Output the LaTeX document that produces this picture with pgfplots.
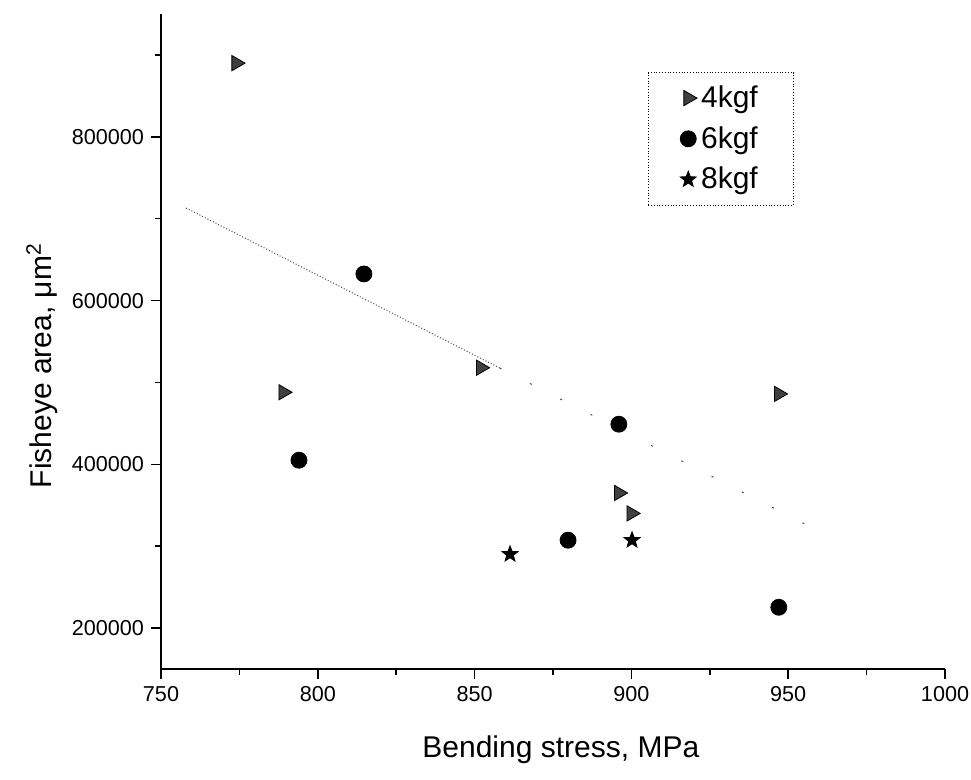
\documentclass[border=0pt]{standalone}
\usepackage{fontspec}
\setmainfont{Liberation Sans}
\usepackage{pgfplots}
\pgfplotsset{compat=1.18}
\pgfdeclareplotmark{fullstar}{%
  \pgfpathmoveto{\pgfpointpolar{90}{\pgfplotmarksize}}%
  \pgfpathlineto{\pgfpointpolar{126}{0.42\pgfplotmarksize}}%
  \pgfpathlineto{\pgfpointpolar{162}{\pgfplotmarksize}}%
  \pgfpathlineto{\pgfpointpolar{198}{0.42\pgfplotmarksize}}%
  \pgfpathlineto{\pgfpointpolar{234}{\pgfplotmarksize}}%
  \pgfpathlineto{\pgfpointpolar{270}{0.42\pgfplotmarksize}}%
  \pgfpathlineto{\pgfpointpolar{306}{\pgfplotmarksize}}%
  \pgfpathlineto{\pgfpointpolar{342}{0.42\pgfplotmarksize}}%
  \pgfpathlineto{\pgfpointpolar{18}{\pgfplotmarksize}}%
  \pgfpathlineto{\pgfpointpolar{54}{0.42\pgfplotmarksize}}%
  \pgfpathclose
  \pgfusepathqfillstroke
}
\begin{document}
\begin{tikzpicture}
\begin{axis}[
  scale only axis, width=392pt, height=327.5pt,
  xmin=750, xmax=1000, ymin=150000, ymax=950000,
  axis x line*=bottom, axis y line*=left,
  axis line style={line width=1.1pt},
  xtick={750,800,850,900,950,1000},
  minor xtick={775,825,875,925,975},
  ytick={200000,400000,600000,800000},
  minor ytick={300000,500000,700000,900000},
  tick align=outside, major tick length=5pt, minor tick length=3pt,
  every tick/.style={line width=0.8pt, black},
  scaled y ticks=false,
  /pgf/number format/assume math mode=true,
  yticklabel style={/pgf/number format/fixed, /pgf/number format/1000 sep={}},
  xticklabel style={/pgf/number format/1000 sep={}},
  ticklabel style={font=\fontsize{10.8}{13}\selectfont},
  xlabel={Bending stress, MPa},
  ylabel={Fisheye area, μm\textsuperscript{2}},
  label style={font=\fontsize{15}{18}\selectfont},
  xlabel style={at={(axis description cs:0.51,-0.124)}, anchor=center},
  ylabel style={at={(axis description cs:-0.152,0.463)}, anchor=center},
  legend style={at={(rel axis cs:0.621,0.911)}, anchor=north west,
    draw=black, densely dotted, font=\fontsize{15}{18}\selectfont,
    row sep=4pt, inner xsep=16pt, inner ysep=4.5pt},
  legend cell align=left,
]
\addplot[forget plot, densely dotted, black!70, line width=0.5pt] coordinates {(758,713000) (858,517600)};
\addplot[forget plot, black!70, line width=0.5pt, dash pattern=on 1pt off 16pt] coordinates {(858,517600) (960,318000)};
\addplot[only marks, mark=triangle*, mark size=4.4pt,
  mark options={rotate=-90, solid, fill=black!75, draw=black}] coordinates {
  (774,890000) (789,488000) (852,518000) (896,365000) (900,340000) (947,486000)};
\addlegendentry{4kgf}
\addplot[only marks, mark=*, mark size=4pt,
  mark options={solid, fill=black, draw=black}] coordinates {
  (814.7,632500) (794,405000) (896,449000) (879.8,307300) (947,225400)};
\addlegendentry{6kgf}
\addplot[only marks, mark=fullstar, mark size=4.2pt,
  mark options={solid, fill=black, draw=black}] coordinates {
  (861.3,290200) (900.2,307300)};
\addlegendentry{8kgf}
\end{axis}
\pgfresetboundingbox
\path[use as bounding box] ([xshift=-80.5pt,yshift=-55pt]current axis.south west) rectangle ([xshift=13pt,yshift=7pt]current axis.north east);
\end{tikzpicture}
\end{document}
